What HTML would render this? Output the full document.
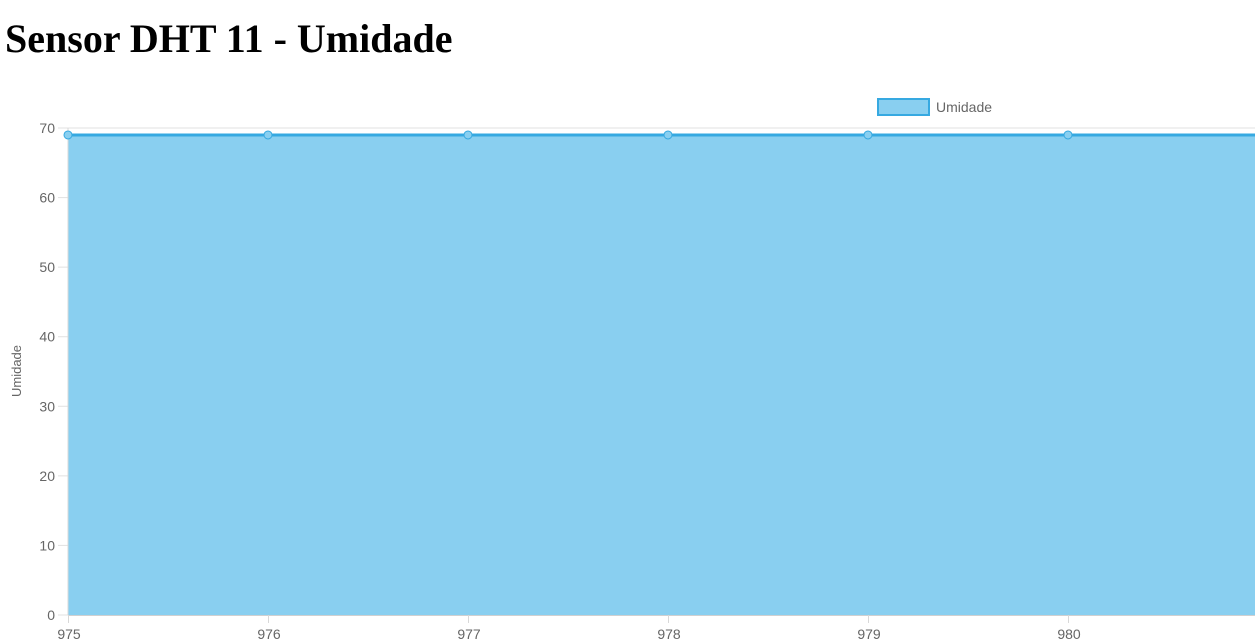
<!DOCTYPE html>
<html><head><meta charset="utf-8"><style>
body{margin:0;width:1255px;height:642px;overflow:hidden;background:#fff;position:relative}
h1{position:absolute;left:5px;top:15px;margin:0;font:bold 40px "Liberation Serif",serif;color:#000}
svg{position:absolute;left:0;top:0}
text{font-family:"Liberation Sans",sans-serif;fill:#666}
</style></head><body>
<h1>Sensor DHT 11 - Umidade</h1>
<svg id="c" width="1255" height="642"></svg>
<script>
const categories=[975,976,977,978,979,980,981];
const humidity=[69,69,69,69,69,69,69];
const yTicks=[0,10,20,30,40,50,60,70];
const NS="http://www.w3.org/2000/svg";
const svg=document.getElementById('c');
const x0=68,step=200,yBase=615,yTop=128,yMax=70;
const xs=i=>x0+i*step;
const ys=v=>yBase-(v/yMax)*(yBase-yTop);
function mk(t,a){const e=document.createElementNS(NS,t);for(const k in a)e.setAttribute(k,a[k]);svg.appendChild(e);return e;}
yTicks.forEach(v=>{
const g=mk('line',{x1:58,x2:1255,y1:ys(v),y2:ys(v),stroke:'#e1e1e1','stroke-width':1});


const t=mk('text',{x:55,y:ys(v)+5,'text-anchor':'end','font-size':14});
t.textContent=v;


});
let d='M'+xs(0)+','+yBase;
humidity.forEach((v,i)=>{d+=' L'+xs(i)+','+ys(v);});
d+=' L'+xs(humidity.length-1)+','+yBase+' Z';
const area=mk('path',{d:d,fill:'#89cff0'});


let ld='';humidity.forEach((v,i)=>{ld+=(i?' L':'M')+xs(i)+','+ys(v);});
const line=mk('path',{d:ld,fill:'none',stroke:'#36a9e1','stroke-width':3});


const ya=mk('line',{x1:x0,x2:x0,y1:yTop,y2:yBase,stroke:'#d8d8d8','stroke-width':1});


const xa=mk('line',{x1:x0,x2:1255,y1:yBase+0.5,y2:yBase+0.5,stroke:'#d0d0d0','stroke-width':1});


categories.forEach((c,i)=>{
const tk=mk('line',{x1:xs(i)+0.5,x2:xs(i)+0.5,y1:yBase,y2:yBase+8,stroke:'#d8d8d8'});


const t=mk('text',{x:xs(i)+1,y:639,'text-anchor':'middle','font-size':14});
t.textContent=c;


});
humidity.forEach((v,i)=>{
const p=mk('circle',{cx:xs(i),cy:ys(v),r:4,fill:'#89cff0',stroke:'#36a9e1','stroke-width':1});


});
const yt=mk('text',{x:0,y:0,'font-size':13,'text-anchor':'middle',transform:'translate(21,371) rotate(-90)'});
yt.textContent='Umidade';


const lb=mk('rect',{x:878,y:99,width:51,height:16,fill:'#89cff0',stroke:'#36a9e1','stroke-width':2});


const lt=mk('text',{x:936,y:112,'font-size':14});
lt.textContent='Umidade';


</script>
</body></html>
